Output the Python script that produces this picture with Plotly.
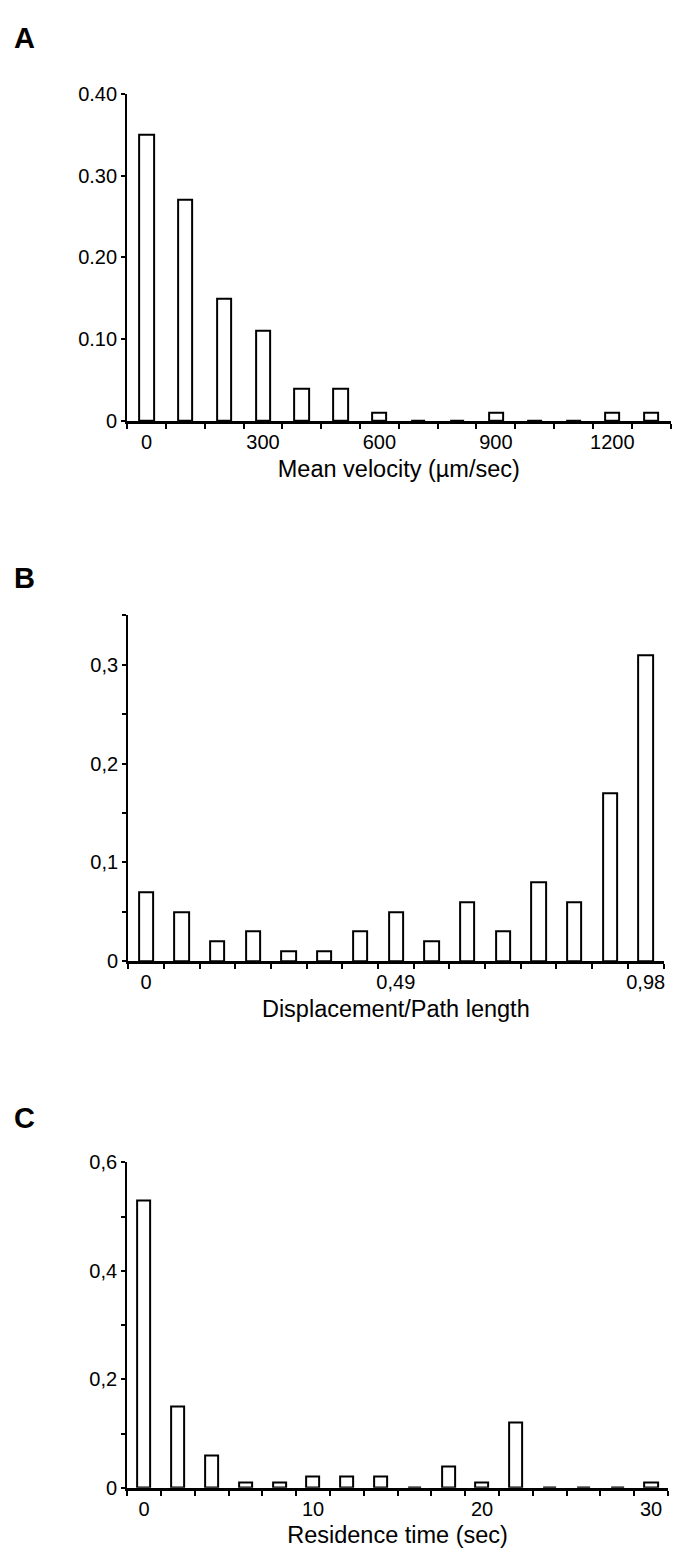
import plotly.graph_objects as go

# ---------------- data ----------------
vel_x = [0, 100, 200, 300, 400, 500, 600, 700, 800, 900, 1000, 1100, 1200, 1300]
vel_y = [0.35, 0.27, 0.15, 0.11, 0.04, 0.04, 0.01, 0, 0, 0.01, 0, 0, 0.01, 0.01]
vel_ticks = [0, 300, 600, 900, 1200]
vel_yticks = [0, 0.10, 0.20, 0.30, 0.40]
vel_ytext = ["0", "0.10", "0.20", "0.30", "0.40"]

dp_x = [0, 0.07, 0.14, 0.21, 0.28, 0.35, 0.42, 0.49, 0.56, 0.63, 0.70, 0.77, 0.84, 0.91, 0.98]
dp_y = [0.07, 0.05, 0.02, 0.03, 0.01, 0.01, 0.03, 0.05, 0.02, 0.06, 0.03, 0.08, 0.06, 0.17, 0.31]
dp_ticks = [0, 0.49, 0.98]
dp_ticktext = ["0", "0,49", "0,98"]
dp_yticks = [0, 0.1, 0.2, 0.3]
dp_ytext = ["0", "0,1", "0,2", "0,3"]

rt_x = [0, 2, 4, 6, 8, 10, 12, 14, 16, 18, 20, 22, 24, 26, 28, 30]
rt_y = [0.53, 0.15, 0.06, 0.01, 0.01, 0.02, 0.02, 0.02, 0, 0.04, 0.01, 0.12, 0, 0, 0, 0.01]
rt_ticks = [0, 10, 20, 30]
rt_yticks = [0, 0.2, 0.4, 0.6]
rt_ytext = ["0", "0,2", "0,4", "0,6"]

FONT = "Liberation Sans, Arial, Helvetica, sans-serif"
W, H = 675, 1553

def px_dom_x(a, b):
    return [a / W, b / W]

def px_dom_y(top, bottom):
    return [1 - bottom / H, 1 - top / H]

fig = go.Figure()

bar_style = dict(marker=dict(color="white", line=dict(color="black", width=2)), showlegend=False,
                 hoverinfo="x+y")
fig.add_trace(go.Bar(x=vel_x, y=vel_y, width=37, xaxis="x", yaxis="y", **bar_style))
fig.add_trace(go.Bar(x=dp_x, y=dp_y, width=0.028, xaxis="x2", yaxis="y2", **bar_style))
fig.add_trace(go.Bar(x=rt_x, y=rt_y, width=0.77, xaxis="x3", yaxis="y3", **bar_style))

def xaxis(dom, rng, tickvals, ticktext, tick0, dtick, title, anchor):
    return dict(
        domain=dom, range=rng, anchor=anchor, showgrid=False, zeroline=False,
        showline=True, linecolor="black", linewidth=2.5,
        tickmode="array", tickvals=tickvals, ticktext=ticktext,
        ticks="outside", ticklen=1, tickcolor="rgba(0,0,0,0)",
        tickfont=dict(family=FONT, size=20, color="black"),
        minor=dict(tickmode="linear", tick0=tick0, dtick=dtick, ticks="outside",
                   ticklen=5, tickwidth=2, tickcolor="black", showgrid=False),
        title=dict(text=title, font=dict(family=FONT, size=23.5, color="black"), standoff=9),
        fixedrange=True,
    )

def yaxis(dom, rng, tickvals, ticktext, minor_dtick, anchor):
    d = dict(
        domain=dom, range=rng, anchor=anchor, showgrid=False, zeroline=False,
        showline=True, linecolor="black", linewidth=2,
        tickmode="array", tickvals=tickvals, ticktext=ticktext,
        ticks="outside", ticklen=4, tickwidth=2, tickcolor="black",
        tickfont=dict(family=FONT, size=20, color="black"),
        fixedrange=True,
    )
    if minor_dtick:
        d["minor"] = dict(tickmode="linear", tick0=0, dtick=minor_dtick, ticks="outside",
                          ticklen=4, tickwidth=2, tickcolor="black", showgrid=False)
    return d

fig.update_layout(
    width=W, height=H,
    margin=dict(l=0, r=0, t=0, b=0),
    paper_bgcolor="white", plot_bgcolor="white",
    bargap=0,
    xaxis=xaxis(px_dom_x(127.5, 672.5), [-50, 1350], vel_ticks, [str(v) for v in vel_ticks],
                -50, 100, "Mean velocity (µm/sec)", "y"),
    yaxis=yaxis(px_dom_y(84, 416), [0, 0.40], vel_yticks, vel_ytext, None, "x"),
    xaxis2=xaxis(px_dom_x(128.5, 665.5), [-0.035, 1.015], dp_ticks, dp_ticktext,
                 -0.035, 0.07, "Displacement/Path length", "y2"),
    yaxis2=yaxis(px_dom_y(613, 964), [0, 0.35], dp_yticks, dp_ytext, 0.05, "x2"),
    xaxis3=xaxis(px_dom_x(127.5, 670), [-1, 31], rt_ticks, [str(v) for v in rt_ticks],
                 -1, 2, "Residence time (sec)", "y3"),
    yaxis3=yaxis(px_dom_y(1168, 1498), [0, 0.6], rt_yticks, rt_ytext, 0.1, "x3"),
)

for letter, ycen in [("A", 27), ("B", 575), ("C", 1123)]:
    fig.add_annotation(text="<b>%s</b>" % letter, xref="paper", yref="paper",
                       x=25 / W, y=1 - ycen / H, xanchor="center", yanchor="middle",
                       showarrow=False, font=dict(family=FONT, size=29, color="black"))

fig.write_html("out.html")
